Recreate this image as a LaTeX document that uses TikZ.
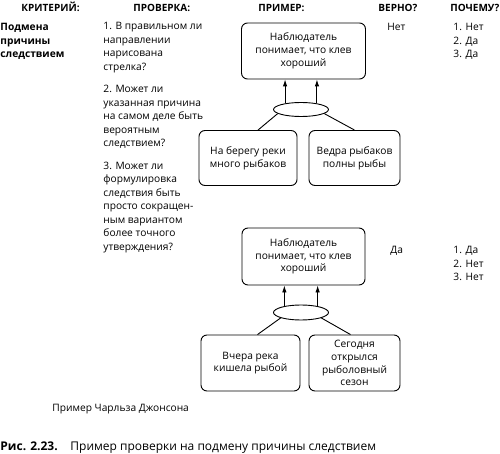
\documentclass[tikz,border=0pt]{standalone}
\usepackage{fontspec}
\setmainfont{Open Sans}
\usetikzlibrary{shapes.geometric,arrows.meta}

\tikzset{
    claim/.style={draw, rounded corners=6pt, align=center, inner sep=0pt,
        font=\fontsize{10.2}{12.8}\selectfont},
    link/.style={draw, ellipse, minimum width=55pt, minimum height=14pt, inner sep=0pt},
    coltext/.style={anchor=north west, align=left, inner sep=0pt},
    head/.style={anchor=base west, inner sep=0pt, font=\bfseries},
    up/.style={-{Latex[length=7pt,width=4.5pt]}},
}

\begin{document}
\begin{tikzpicture}[x=1pt, y=-1pt, line width=0.9pt,
    font=\fontsize{10.2}{13.5}\selectfont]
    \useasboundingbox (0,0) rectangle (500,454);

    % Column heads
    \foreach \x/\name/\txt in {21/hcrit/КРИТЕРИЙ:, 133/hcheck/ПРОВЕРКА:, 258/hex/ПРИМЕР:, 378/hok/ВЕРНО?, 450/hwhy/ПОЧЕМУ?} {
        \node[head] (\name) at (\x,12) {\txt};
    }

    % Criterion and questions
    \node[coltext, font=\fontsize{10.2}{13.5}\selectfont\bfseries] (crit) at (0,23) {Подмена\\причины\\следствием};
    \node[coltext] (check) at (103,22) {1. В правильном ли\\направлении\\нарисована\\стрелка?\\[9pt]
        2. Может ли\\указанная причина\\на самом деле быть\\вероятным\\следствием?\\[9pt]
        3. Может ли\\формулировка\\следствия быть\\просто сокращен-\\ным вариантом\\более точного\\утверждения?};

    % First example
    \node[claim, minimum width=124pt, minimum height=56pt] (obs1) at (303.5,51) {Наблюдатель\\понимает, что клев\\хороший};
    \node[link] (and1) at (301,109.5) {};
    \node[claim, minimum width=98pt, minimum height=55pt] (cause11) at (248,158) {На берегу реки\\много рыбаков};
    \node[claim, minimum width=91pt, minimum height=55pt] (cause12) at (354.5,158) {Ведра рыбаков\\полны рыбы};
    \draw[up] (and1.159) -- (and1.159 |- obs1.south);
    \draw[up] (and1.21) -- (and1.21 |- obs1.south);
    \draw (and1.190) -- ([xshift=10pt]cause11.north);
    \draw (and1.350) -- (cause12.north);

    \node[coltext] (ok1) at (387,23) {Нет};
    \node[coltext] (why1) at (453,23) {1. Нет\\2. Да\\3. Да};

    % Second example
    \node[claim, minimum width=123pt, minimum height=57pt] (obs2) at (303.5,256.5) {Наблюдатель\\понимает, что клев\\хороший};
    \node[link, minimum height=15pt] (and2) at (301,312.5) {};
    \node[claim, minimum width=99pt, minimum height=56pt] (cause21) at (250.5,363) {Вчера река\\кишела рыбой};
    \node[claim, minimum width=91pt, minimum height=56pt] (cause22) at (354.5,363) {Сегодня\\открылся\\рыболовный\\сезон};
    \draw[up] (and2.159) -- (and2.159 |- obs2.south);
    \draw[up] (and2.21) -- (and2.21 |- obs2.south);
    \draw (and2.195) -- ([xshift=7pt]cause21.north);
    \draw (and2.345) -- ([xshift=-4pt]cause22.north);

    \node[coltext] (ok2) at (390,246) {Да};
    \node[coltext] (why2) at (453,246) {1. Да\\2. Нет\\3. Нет};

    % Source and caption
    \node[head, font=\fontsize{10.2}{13.5}\selectfont] (source) at (52,411) {Пример Чарльза Джонсона};
    \node[head, font=\fontsize{12}{14}\selectfont\bfseries] (figno) at (0,450) {Рис. 2.23.};
    \node[head, font=\fontsize{12}{14}\selectfont] (figtxt) at (70,450) {Пример проверки на подмену причины следствием};
\end{tikzpicture}
\end{document}
